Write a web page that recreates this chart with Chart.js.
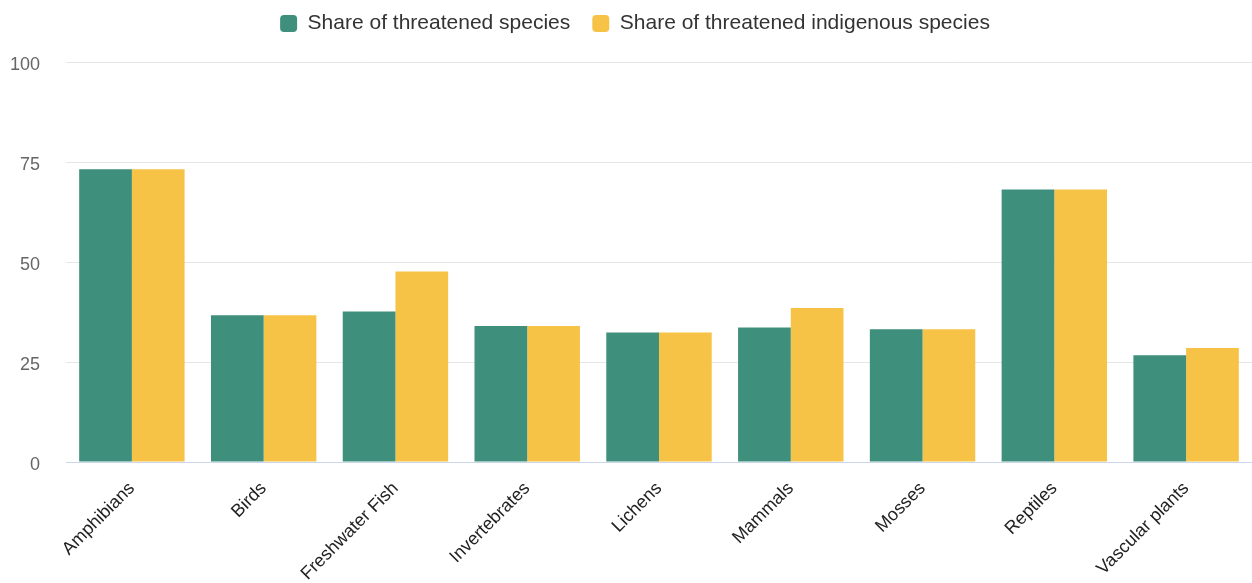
<!DOCTYPE html>
<html>
<head>
<meta charset="utf-8">
<script src="https://cdn.jsdelivr.net/npm/chart.js@4/dist/chart.umd.min.js"></script>
<style>
  html, body { margin: 0; padding: 0; background: #ffffff; }
  #wrap { width: 1252px; height: 583px; position: relative; }
</style>
</head>
<body>
<div id="wrap"><canvas id="chart"></canvas></div>
<script>
// Species groups and the share (%) of threatened species in each
const categories = ['Amphibians', 'Birds', 'Freshwater Fish', 'Invertebrates', 'Lichens', 'Mammals', 'Mosses', 'Reptiles', 'Vascular plants'];
const threatenedShare = [73.2, 36.7, 37.6, 34.0, 32.4, 33.6, 33.2, 68.1, 26.7];
const threatenedIndigenousShare = [73.2, 36.7, 47.6, 34.0, 32.4, 38.5, 33.2, 68.1, 28.5];
const yTicks = [0, 25, 50, 75, 100];

const FONT = "'Liberation Sans', Arial, Helvetica, sans-serif";

// Reserve a fixed band for the legend above the plot area and nudge its row
const LEGEND_BAND = 72;
const LEGEND_SHIFT_X = 9;
const LEGEND_SHIFT_Y = 1;
const legendBand = {
  id: 'legendBand',
  beforeLayout(chart) {
    const legend = chart.legend;
    if (legend && !legend._bandPatched) {
      const fit = legend.fit;
      legend.fit = function () {
        fit.call(this);
        this.height = LEGEND_BAND;
      };
      const draw = legend.draw;
      legend.draw = function () {
        const ctx = this.ctx;
        ctx.save();
        ctx.translate(LEGEND_SHIFT_X, LEGEND_SHIFT_Y);
        draw.call(this);
        ctx.restore();
      };
      legend._bandPatched = true;
    }
  }
};

new Chart(document.getElementById('chart'), {
  type: 'bar',
  data: {
    labels: categories,
    datasets: [
      {
        label: 'Share of threatened species',
        data: threatenedShare,
        backgroundColor: '#3f8f7d'
      },
      {
        label: 'Share of threatened indigenous species',
        data: threatenedIndigenousShare,
        backgroundColor: '#f6c346'
      }
    ]
  },
  plugins: [legendBand],
  options: {
    responsive: true,
    maintainAspectRatio: false,
    animation: false,
    layout: { padding: { top: -10, right: 0, bottom: 0, left: 0 } },
    datasets: {
      bar: { categoryPercentage: 0.8, barPercentage: 1.0 }
    },
    plugins: {
      legend: {
        position: 'top',
        labels: {
          font: { family: FONT, size: 21 },
          color: '#333333',
          boxWidth: 17,
          boxHeight: 17,
          useBorderRadius: true,
          borderRadius: 4,
          padding: 22
        }
      },
      tooltip: { enabled: false }
    },
    scales: {
      x: {
        grid: { display: false, drawTicks: false },
        border: { display: true, color: '#ccd6eb', width: 1 },
        ticks: {
          font: { family: FONT, size: 18 },
          color: '#222222',
          minRotation: 45,
          maxRotation: 45,
          padding: 16,
          autoSkip: false
        },
        afterFit(scale) { scale.height = 121; }
      },
      y: {
        min: 0,
        max: 100,
        afterBuildTicks(scale) { scale.ticks = yTicks.map(v => ({ value: v })); },
        grid: { color: '#e6e6e6', lineWidth: 1, drawTicks: false },
        border: { display: false },
        ticks: {
          font: { family: FONT, size: 18 },
          color: '#666666',
          padding: 26,
          labelOffset: 3
        },
        afterFit(scale) { scale.width = 66; }
      }
    }
  }
});
</script>
</body>
</html>
